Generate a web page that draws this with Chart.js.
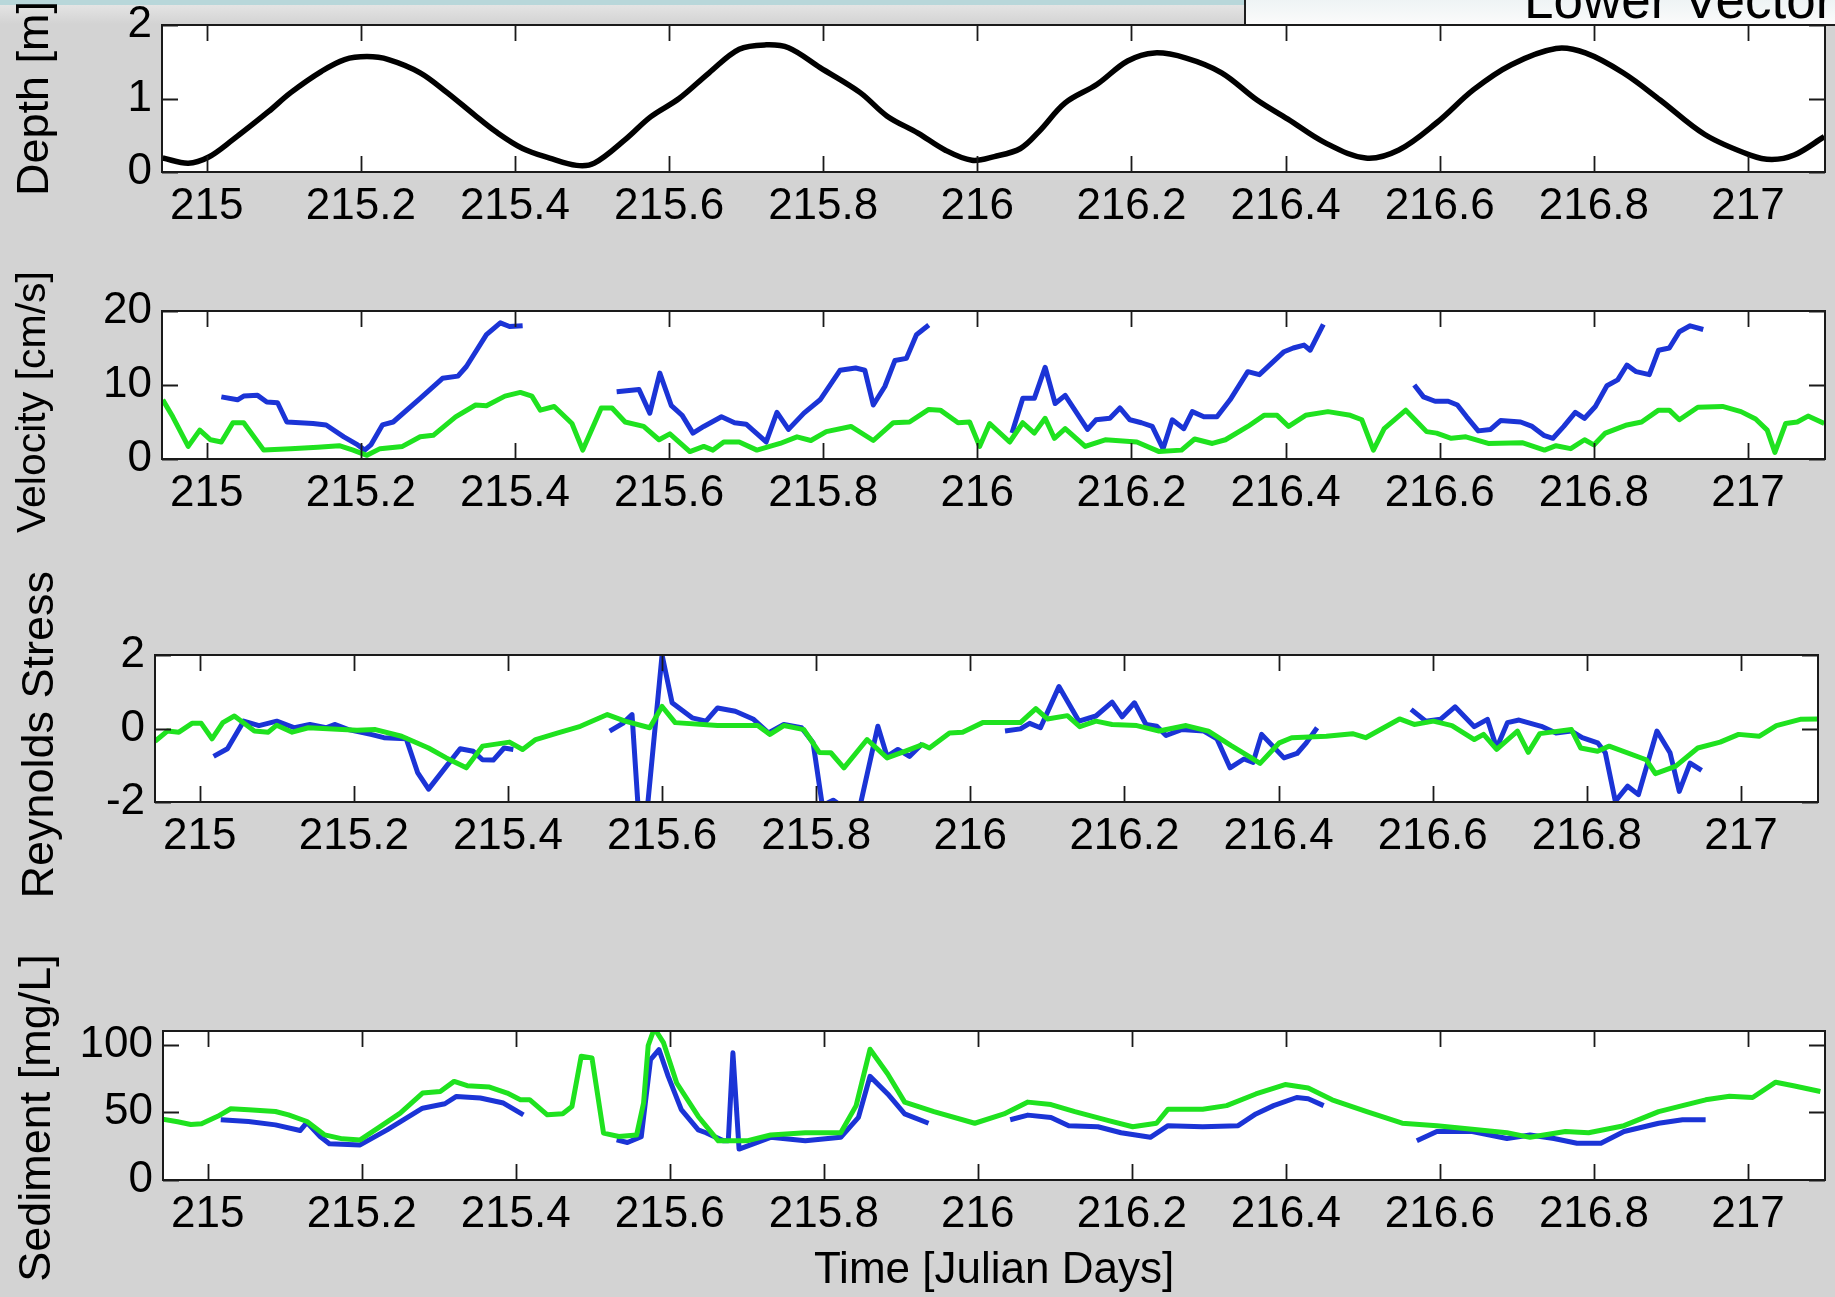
<!DOCTYPE html>
<html>
<head>
<meta charset="utf-8">
<title>Lower Vector – tidal record</title>
<script src="https://cdn.jsdelivr.net/npm/chart.js@4.4.1/dist/chart.umd.min.js"></script>
<style>
  html, body { margin: 0; padding: 0; }
  body {
    width: 1835px; height: 1297px; position: relative; overflow: hidden;
    background: #d3d3d3; font-family: 'Liberation Sans', Arial, sans-serif;
  }
  .strip { position: absolute; left: 0; top: 0; width: 1835px; height: 5px; background: #b8d7da; }
  .bar { position: absolute; left: 0; top: 5px; width: 1835px; height: 19px; background: linear-gradient(#e4e4e4, #d3d3d3); }
  .tag {
    position: absolute; left: 1244px; top: -2px; width: 600px; height: 26px; overflow: hidden;
    background: linear-gradient(#edf3f4, #fbfbfb);
    border-left: 2px solid #1e1e1e; border-bottom: 2px solid #1e1e1e;
  }
  .tag span {
    position: absolute; left: 278px; top: -25px; font-size: 53px; line-height: 53px;
    color: #000; white-space: nowrap;
  }
  canvas.panel { position: absolute; left: 0; }
</style>
</head>
<body>
<div class="strip"></div>
<div class="bar"></div>
<div class="tag"><span>Lower Vector</span></div>

<canvas id="depthChart" class="panel"></canvas>
<canvas id="velChart" class="panel"></canvas>
<canvas id="rsChart" class="panel"></canvas>
<canvas id="sedChart" class="panel"></canvas>

<script>
// ---- time axis (Julian days) ----
const xMin = 214.942;
const xMax = 217.1;
const xTickValues = [215, 215.2, 215.4, 215.6, 215.8, 216, 216.2, 216.4, 216.6, 216.8, 217];
const xTickLabels = ['215', '215.2', '215.4', '215.6', '215.8', '216', '216.2', '216.4', '216.6', '216.8', '217'];

// ---- water depth [m] ----
const depthTime = [214.943, 214.976, 215.002, 215.034, 215.080, 215.109, 215.149, 215.179, 215.208, 215.236,
  215.277, 215.312, 215.347, 215.375, 215.410, 215.445, 215.480, 215.503, 215.543, 215.576,
  215.613, 215.652, 215.691, 215.726, 215.755, 215.796, 215.848, 215.883, 215.923, 215.958,
  215.993, 216.022, 216.056, 216.080, 216.114, 216.155, 216.195, 216.230, 216.271, 216.317,
  216.363, 216.403, 216.451, 216.504, 216.547, 216.596, 216.644, 216.693, 216.751, 216.789,
  216.838, 216.886, 216.944, 217.003, 217.031, 217.060, 217.099];
const depth = [0.19, 0.12, 0.20, 0.44, 0.82, 1.08, 1.37, 1.53, 1.57, 1.53,
  1.35, 1.08, 0.78, 0.55, 0.32, 0.19, 0.09, 0.12, 0.44, 0.75,
  1.00, 1.35, 1.67, 1.73, 1.69, 1.42, 1.08, 0.76, 0.53, 0.30,
  0.16, 0.21, 0.32, 0.55, 0.94, 1.19, 1.51, 1.62, 1.55, 1.35,
  0.98, 0.72, 0.40, 0.19, 0.30, 0.67, 1.12, 1.46, 1.68, 1.62,
  1.35, 0.98, 0.51, 0.23, 0.17, 0.23, 0.48];

// ---- velocity [cm/s] ----
const velGreenTime = [214.943, 214.956, 214.976, 214.991, 215.005, 215.019, 215.034, 215.048, 215.074, 215.109,
  215.144, 215.172, 215.190, 215.208, 215.225, 215.254, 215.277, 215.294, 215.323, 215.349,
  215.363, 215.387, 215.407, 215.422, 215.433, 215.451, 215.474, 215.488, 215.512, 215.526,
  215.543, 215.567, 215.587, 215.601, 215.627, 215.645, 215.657, 215.671, 215.691, 215.714,
  215.744, 215.766, 215.784, 215.804, 215.836, 215.865, 215.891, 215.912, 215.937, 215.952,
  215.975, 215.990, 216.003, 216.016, 216.042, 216.059, 216.074, 216.088, 216.100, 216.114,
  216.140, 216.166, 216.207, 216.236, 216.265, 216.282, 216.305, 216.322, 216.351, 216.372,
  216.389, 216.404, 216.426, 216.455, 216.484, 216.499, 216.514, 216.528, 216.556, 216.583,
  216.596, 216.615, 216.634, 216.663, 216.707, 216.736, 216.751, 216.770, 216.788, 216.800,
  216.815, 216.843, 216.862, 216.884, 216.898, 216.911, 216.935, 216.967, 216.991, 217.010,
  217.025, 217.035, 217.049, 217.064, 217.078, 217.099];
const velGreen = [8.0, 5.7, 1.7, 3.9, 2.6, 2.3, 4.9, 4.9, 1.2, 1.4,
  1.6, 1.8, 1.2, 0.5, 1.4, 1.7, 3.0, 3.2, 5.7, 7.3,
  7.2, 8.5, 9.0, 8.5, 6.6, 7.1, 4.8, 1.2, 6.9, 6.9,
  5.0, 4.4, 2.6, 3.4, 1.0, 1.7, 1.2, 2.3, 2.3, 1.2,
  2.1, 3.0, 2.5, 3.7, 4.4, 2.5, 4.9, 5.0, 6.7, 6.6,
  4.9, 5.0, 1.7, 4.8, 2.3, 4.9, 3.5, 5.5, 2.8, 4.1,
  1.7, 2.6, 2.3, 1.0, 1.2, 2.7, 2.1, 2.6, 4.4, 5.9,
  5.9, 4.4, 5.9, 6.4, 5.9, 5.3, 1.2, 4.1, 6.6, 3.7,
  3.5, 2.8, 3.0, 2.1, 2.2, 1.2, 1.8, 1.4, 2.6, 1.9,
  3.5, 4.6, 5.0, 6.6, 6.6, 5.3, 7.0, 7.1, 6.4, 5.4,
  3.9, 0.9, 4.8, 5.0, 5.8, 4.8];

// blue record has gaps between bursts (null = no data)
const velBlueTime = [215.019, 215.040, 215.048, 215.066, 215.078, 215.092, 215.104, 215.138, 215.155, 215.178,
  215.196, 215.205, 215.213, 215.228, 215.242, 215.277, 215.306, 215.326, 215.337, 215.363,
  215.381, 215.393, 215.410, 215.470,
  215.532, 215.561, 215.575, 215.588, 215.603, 215.617, 215.631, 215.645, 215.668, 215.685,
  215.700, 215.726, 215.740, 215.755, 215.775, 215.796, 215.822, 215.842, 215.854, 215.865,
  215.880, 215.893, 215.908, 215.921, 215.937, 216.000,
  216.045, 216.059, 216.074, 216.088, 216.101, 216.114, 216.143, 216.154, 216.172, 216.185,
  216.198, 216.213, 216.227, 216.241, 216.253, 216.268, 216.279, 216.294, 216.311, 216.328,
  216.351, 216.366, 216.398, 216.410, 216.424, 216.432, 216.449, 216.500,
  216.567, 216.579, 216.594, 216.611, 216.623, 216.635, 216.650, 216.666, 216.679, 216.705,
  216.720, 216.735, 216.747, 216.761, 216.776, 216.788, 216.802, 216.817, 216.831, 216.843,
  216.855, 216.872, 216.884, 216.898, 216.911, 216.925, 216.942];
const velBlue = [8.4, 8.0, 8.5, 8.6, 7.7, 7.6, 5.0, 4.8, 4.6, 3.0,
  1.9, 1.2, 1.9, 4.6, 5.0, 8.2, 10.9, 11.2, 12.5, 16.8,
  18.4, 17.9, 18.0, null,
  9.1, 9.4, 6.2, 11.6, 7.2, 5.9, 3.5, 4.4, 5.7, 4.9,
  4.7, 2.3, 6.3, 4.0, 6.2, 8.0, 12.0, 12.3, 12.0, 7.3,
  9.8, 13.3, 13.6, 16.8, 18.1, null,
  3.5, 8.2, 8.2, 12.4, 7.5, 8.6, 4.0, 5.3, 5.5, 6.9,
  5.3, 4.9, 4.4, 1.4, 5.3, 4.1, 6.4, 5.7, 5.7, 8.0,
  11.8, 11.4, 14.5, 15.0, 15.4, 14.7, 18.2, null,
  10.0, 8.4, 7.8, 7.8, 7.3, 5.7, 3.8, 4.0, 5.2, 5.0,
  4.4, 3.2, 2.8, 4.4, 6.3, 5.5, 7.1, 9.9, 10.7, 12.7,
  11.8, 11.4, 14.7, 15.0, 17.2, 18.0, 17.5];

// ---- Reynolds stress ----
const rsGreenTime = [214.942, 214.958, 214.973, 214.990, 215.002, 215.016, 215.030, 215.045, 215.071, 215.089,
  215.100, 215.120, 215.141, 215.204, 215.228, 215.262, 215.297, 215.320, 215.346, 215.367,
  215.402, 215.419, 215.436, 215.465, 215.494, 215.529, 215.552, 215.584, 215.600, 215.617,
  215.672, 215.724, 215.740, 215.758, 215.784, 215.804, 215.819, 215.836, 215.866, 215.892,
  215.915, 215.938, 215.947, 215.973, 215.990, 216.016, 216.065, 216.085, 216.100, 216.126,
  216.142, 216.163, 216.184, 216.216, 216.245, 216.280, 216.309, 216.338, 216.361, 216.376,
  216.401, 216.417, 216.462, 216.496, 216.513, 216.557, 216.576, 216.601, 216.625, 216.654,
  216.666, 216.683, 216.710, 216.724, 216.739, 216.780, 216.792, 216.814, 216.829, 216.877,
  216.889, 216.915, 216.944, 216.973, 216.997, 217.024, 217.046, 217.077, 217.100];
const rsGreen = [-0.35, -0.07, -0.10, 0.14, 0.14, -0.28, 0.16, 0.34, -0.07, -0.10,
  0.09, -0.10, 0.02, -0.05, -0.03, -0.21, -0.53, -0.80, -1.07, -0.48,
  -0.37, -0.57, -0.30, -0.12, 0.06, 0.38, 0.20, 0.02, 0.60, 0.16,
  0.08, 0.08, -0.16, 0.08, -0.03, -0.65, -0.66, -1.07, -0.30, -0.80,
  -0.62, -0.44, -0.53, -0.12, -0.10, 0.16, 0.16, 0.54, 0.26, 0.35,
  0.05, 0.20, 0.11, 0.08, -0.07, 0.08, -0.07, -0.46, -0.75, -0.95,
  -0.39, -0.25, -0.21, -0.14, -0.25, 0.26, 0.11, 0.20, 0.08, -0.30,
  -0.16, -0.57, -0.07, -0.65, -0.14, -0.03, -0.53, -0.62, -0.48, -0.85,
  -1.23, -1.03, -0.53, -0.37, -0.16, -0.21, 0.08, 0.25, 0.26];

const rsBlueTime = [215.018, 215.036, 215.057, 215.077, 215.100, 215.123, 215.143, 215.164, 215.175, 215.193,
  215.222, 215.239, 215.268, 215.283, 215.297, 215.320, 215.338, 215.355, 215.367, 215.381,
  215.395, 215.407, 215.470,
  215.532, 215.549, 215.561, 215.571, 215.578, 215.600, 215.613, 215.639, 215.657, 215.672,
  215.695, 215.718, 215.738, 215.758, 215.781, 215.796, 215.808, 215.822, 215.839, 215.857,
  215.880, 215.892, 215.906, 215.921, 215.938, 216.000,
  216.045, 216.065, 216.077, 216.091, 216.115, 216.141, 216.163, 216.184, 216.197, 216.213,
  216.228, 216.242, 216.254, 216.274, 216.303, 216.320, 216.337, 216.355, 216.367, 216.378,
  216.407, 216.424, 216.436, 216.450, 216.510,
  216.572, 216.591, 216.610, 216.629, 216.654, 216.671, 216.683, 216.697, 216.712, 216.741,
  216.760, 216.780, 216.794, 216.814, 216.824, 216.837, 216.853, 216.867, 216.891, 216.908,
  216.920, 216.934, 216.949];
const rsBlue = [-0.76, -0.55, 0.20, 0.08, 0.20, 0.02, 0.11, 0.02, 0.11, -0.03,
  -0.16, -0.25, -0.28, -1.21, -1.65, -1.03, -0.55, -0.62, -0.85, -0.86,
  -0.53, -0.57, null,
  -0.07, 0.14, 0.38, -2.8, -2.8, 2.0, 0.70, 0.29, 0.20, 0.56,
  0.47, 0.26, -0.12, 0.11, 0.02, -0.39, -2.1, -1.95, -2.2, -2.1,
  0.06, -0.76, -0.57, -0.76, -0.41, null,
  -0.07, -0.01, 0.14, 0.02, 1.14, 0.20, 0.34, 0.72, 0.32, 0.70,
  0.11, 0.06, -0.19, -0.03, -0.07, -0.28, -1.07, -0.83, -0.92, -0.16,
  -0.80, -0.68, -0.39, 0.02, null,
  0.52, 0.20, 0.25, 0.59, 0.05, 0.25, -0.53, 0.16, 0.23, 0.06,
  -0.12, -0.07, -0.25, -0.39, -0.66, -1.98, -1.57, -1.80, -0.07, -0.66,
  -1.71, -0.94, -1.14];

// ---- suspended sediment [mg/L] ----
const sedGreenTime = [214.941, 214.961, 214.978, 214.992, 215.013, 215.030, 215.053, 215.088, 215.105, 215.129,
  215.152, 215.175, 215.198, 215.221, 215.250, 215.279, 215.302, 215.320, 215.337, 215.366,
  215.389, 215.406, 215.418, 215.441, 215.461, 215.473, 215.485, 215.499, 215.514, 215.534,
  215.557, 215.566, 215.572, 215.580, 215.592, 215.609, 215.637, 215.663, 215.700, 215.731,
  215.776, 215.822, 215.842, 215.860, 215.883, 215.905, 215.943, 215.996, 216.034, 216.065,
  216.095, 216.126, 216.171, 216.201, 216.232, 216.247, 216.292, 216.323, 216.361, 216.399,
  216.429, 216.460, 216.505, 216.551, 216.596, 216.642, 216.687, 216.717, 216.763, 216.793,
  216.839, 216.884, 216.915, 216.945, 216.976, 217.006, 217.036, 217.059, 217.094];
const sedGreen = [45, 43, 41, 41.5, 47, 52.6, 51.9, 50.6, 48.1, 43.2,
  33.3, 30.4, 29.6, 38.3, 49.4, 64.2, 65.4, 72.8, 69.6, 68.6,
  64.2, 59.3, 59.3, 48.1, 48.9, 54.3, 91.4, 90.1, 34.6, 32.1,
  33.3, 56.8, 99.3, 112, 101.2, 71.6, 46.9, 28.9, 28.9, 33.2,
  34.9, 34.9, 54.9, 96.5, 78.3, 57.5, 50.5, 41.9, 48.8, 57.5,
  55.7, 50.5, 43.6, 39.3, 41.9, 52.3, 52.3, 54.9, 63.5, 70.5,
  67.9, 59.2, 50.5, 41.9, 40.1, 37.5, 34.9, 31.5, 35.8, 34.9,
  40.1, 50.5, 54.9, 59.2, 61.8, 60.9, 72.2, 69.6, 65.3];

const sedBlueTime = [215.017, 215.053, 215.088, 215.120, 215.129, 215.146, 215.158, 215.198, 215.233, 215.279,
  215.308, 215.323, 215.354, 215.384, 215.410, 215.470,
  215.531, 215.545, 215.563, 215.575, 215.586, 215.598, 215.615, 215.637, 215.647, 215.670,
  215.676, 215.682, 215.690, 215.731, 215.776, 215.822, 215.845, 215.860, 215.883, 215.905,
  215.936, 216.000,
  216.042, 216.065, 216.095, 216.118, 216.156, 216.186, 216.224, 216.247, 216.292, 216.338,
  216.361, 216.384, 216.414, 216.429, 216.449, 216.510,
  216.570, 216.596, 216.642, 216.687, 216.717, 216.748, 216.778, 216.809, 216.839, 216.884,
  216.915, 216.945];
const sedBlue = [44.4, 43.2, 40.7, 36.5, 42.5, 32.1, 26.7, 25.9, 37, 53,
  56.3, 61.7, 60.5, 56.8, 48.1, null,
  29.6, 27.7, 32, 88.9, 96.3, 76.5, 51.9, 37, 34.9, 28.9,
  28.9, 93.9, 22.8, 31.5, 28.9, 31.5, 46.2, 76.5, 63.5, 48.8,
  41.9, null,
  44.5, 47.9, 46.2, 40.1, 39.3, 34.9, 31.5, 40.1, 39.3, 40.1,
  48.8, 54.9, 60.9, 60.0, 54.9, null,
  28.9, 35.8, 35.8, 30.6, 33.2, 30.6, 27.1, 27.1, 35.8, 41.9,
  44.5, 44.5];

// ---- y axis ticks ----
const depthTicks = [0, 1, 2];
const velTicks = [0, 10, 20];
const rsTicks = [-2, 0, 2];
const sedTicks = [0, 50, 100];

// ---- drawing ----
const FONT = "'Liberation Sans', Arial, Helvetica, sans-serif";
const BLUE = '#1b34d6';
const GREEN = '#1fe21f';
const PAGE_W = 1835;

Chart.defaults.font.family = FONT;
Chart.defaults.color = '#000';

const pts = (t, v) => t.map((x, i) => ({ x: x, y: v[i] }));

// white plot box, black frame and inward tick marks on all four sides
const axesBox = {
  id: 'axesBox',
  beforeDraw(chart) {
    const a = chart.chartArea, ctx = chart.ctx;
    ctx.save();
    ctx.fillStyle = '#ffffff';
    ctx.fillRect(a.left, a.top, a.right - a.left, a.bottom - a.top);
    ctx.restore();
  },
  afterDraw(chart) {
    const a = chart.chartArea, ctx = chart.ctx;
    const xs = chart.scales.x, ys = chart.scales.y;
    const len = 16;
    ctx.save();
    ctx.strokeStyle = '#1a1a1a';
    ctx.lineWidth = 1.8;
    ctx.beginPath();
    xs.ticks.forEach(t => {
      const px = Math.round(xs.getPixelForValue(t.value)) + 0.5;
      ctx.moveTo(px, a.bottom); ctx.lineTo(px, a.bottom - len);
      ctx.moveTo(px, a.top); ctx.lineTo(px, a.top + len);
    });
    ys.ticks.forEach(t => {
      const py = Math.round(ys.getPixelForValue(t.value)) + 0.5;
      ctx.moveTo(a.left, py); ctx.lineTo(a.left + len, py);
      ctx.moveTo(a.right, py); ctx.lineTo(a.right - len, py);
    });
    ctx.stroke();
    ctx.lineWidth = 2;
    ctx.strokeRect(a.left, a.top, a.right - a.left, a.bottom - a.top);
    ctx.restore();
  }
};

function lineSet(data, color, width, tension) {
  return {
    data: data, borderColor: color, borderWidth: width, pointRadius: 0,
    tension: tension || 0, spanGaps: false, clip: 0, borderJoinStyle: 'round', borderCapStyle: 'butt'
  };
}

function makePanel(id, p) {
  const cv = document.getElementById(id);
  cv.width = PAGE_W; cv.height = p.canvasBottom - p.canvasTop;
  cv.style.top = p.canvasTop + 'px';
  return new Chart(cv, {
    type: 'line',
    data: { datasets: p.datasets },
    plugins: [axesBox],
    options: {
      responsive: false, animation: false, devicePixelRatio: 1,
      layout: { autoPadding: false, padding: { left: 0, top: p.top - p.canvasTop, right: PAGE_W - p.right, bottom: 0 } },
      plugins: { legend: { display: false }, tooltip: { enabled: false } },
      scales: {
        x: {
          type: 'linear', min: xMin, max: xMax,
          afterBuildTicks: s => { s.ticks = xTickValues.map(v => ({ value: v })); },
          afterFit: s => { s.height = p.canvasBottom - p.bottom; },
          grid: { display: false, drawTicks: false },
          border: { display: false },
          ticks: {
            color: '#000', font: { size: 44 }, padding: 8, minRotation: 0, maxRotation: 0, autoSkip: false,
            callback: v => xTickLabels[xTickValues.indexOf(v)]
          },
          title: p.xTitle ? { display: true, text: p.xTitle, color: '#000', font: { size: 44 }, padding: { top: 0, bottom: 0 } } : { display: false }
        },
        y: {
          type: 'linear', min: p.yMin, max: p.yMax,
          afterBuildTicks: s => { s.ticks = p.yTicks.map(v => ({ value: v })); },
          afterFit: s => { s.width = p.left; },
          grid: { display: false, drawTicks: false },
          border: { display: false },
          ticks: { color: '#000', font: { size: 44 }, padding: 10, callback: v => String(v) },
          title: { display: true, text: p.yTitle, color: '#000', font: { size: p.titleSize || 45 }, padding: { top: p.titlePad, bottom: 0 } }
        }
      }
    }
  });
}

makePanel('depthChart', {
  canvasTop: -40, canvasBottom: 245, left: 162, right: 1825, top: 25, bottom: 172,
  yMin: 0, yMax: 2, yTicks: depthTicks, yTitle: 'Depth [m]', titlePad: 9,
  datasets: [lineSet(pts(depthTime, depth), '#000000', 5.5, 0.35)]
});

makePanel('velChart', {
  canvasTop: 220, canvasBottom: 535, left: 162, right: 1825, top: 311, bottom: 459,
  yMin: 0, yMax: 20, yTicks: velTicks, yTitle: 'Velocity [cm/s]   ', titlePad: 9, titleSize: 41,
  datasets: [lineSet(pts(velGreenTime, velGreen), GREEN, 5), lineSet(pts(velBlueTime, velBlue), BLUE, 5)]
});

makePanel('rsChart', {
  canvasTop: 550, canvasBottom: 915, left: 155, right: 1818, top: 655, bottom: 802,
  yMin: -2, yMax: 2, yTicks: rsTicks, yTitle: 'Reynolds Stress ', titlePad: 14,
  datasets: [lineSet(pts(rsGreenTime, rsGreen), GREEN, 5), lineSet(pts(rsBlueTime, rsBlue), BLUE, 5)]
});

makePanel('sedChart', {
  canvasTop: 935, canvasBottom: 1297, left: 163, right: 1825, top: 1031, bottom: 1180,
  yMin: 0, yMax: 110, yTicks: sedTicks, yTitle: 'Sediment [mg/L]  ', titlePad: 11,
  xTitle: 'Time [Julian Days]',
  datasets: [lineSet(pts(sedGreenTime, sedGreen), GREEN, 5), lineSet(pts(sedBlueTime, sedBlue), BLUE, 5)]
});
</script>
</body>
</html>
